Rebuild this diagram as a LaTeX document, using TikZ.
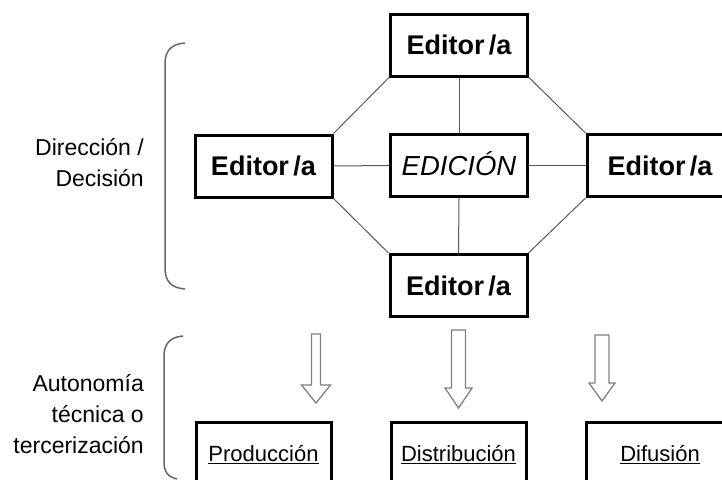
\documentclass[tikz,border=0pt]{standalone}
\usepackage{fontspec}
\setmainfont{Liberation Sans}
\begin{document}
\begin{tikzpicture}[x=1pt,y=-1pt,
  ebox/.style={draw=black, line width=3pt, fill=white, inner sep=0pt,
    minimum width=#1, minimum height=62pt},
  ebox/.default=137pt,
  edfont/.style={font=\bfseries\fontsize{27}{32}\selectfont},
  centfont/.style={font=\itshape\fontsize{27.5}{32}\selectfont, inner sep=0pt},
  bbox/.style={draw=black, line width=3pt, fill=white, inner sep=0pt,
    minimum width=#1, minimum height=80pt},
  conn/.style={draw=black!65, line width=1pt},
  harrow/.style={draw=black!50, line width=1.3pt, line join=miter, fill=white},
  brace/.style={draw=black!60, line width=1.5pt},
  lbl/.style={font=\fontsize{23}{31}\selectfont, align=right, inner sep=0pt},
  btext/.style={font=\fontsize{22}{26}\selectfont, inner sep=0pt}
]
\useasboundingbox (0,0) rectangle (722,479);
\clip (0,0) rectangle (722,479);
\fill[white] (0,0) rectangle (722,479);

% upper boxes
\node[ebox, edfont] (top) at (459,45) {Editor\,/a};
\node[ebox, edfont] (left) at (263.5,166) {Editor\,/a};
\node[ebox] (mid) at (459,165.5) {};
\node[centfont] (midt) at ([yshift=2pt]mid.center) {EDICIÓN};
\node[ebox=146pt, edfont] (right) at (660,165.5) {Editor\,/a};
\node[ebox, edfont] (bot) at (458.5,285.5) {Editor\,/a};

% connectors
\draw[conn] (top.south) -- (mid.north);
\draw[conn] (mid.south) -- (bot.north);
\draw[conn] (left.east) -- (mid.west);
\draw[conn] (mid.east) -- (right.west);
\draw[conn] (top.south west) -- (left.north east);
\draw[conn] (top.south east) -- (right.north west);
\draw[conn] (left.south east) -- (bot.north west);
\draw[conn] (right.south west) -- (bot.north east);

% lower boxes
\node[bbox=135pt] (prod) at (263.5,462) {};
\node[bbox=135pt] (dist) at (458.5,462) {};
\node[bbox=148pt] (difu) at (660,462) {};
\node[btext] (prodt) at (263.5,455) {\underline{Producción}};
\node[btext] (distt) at (458.5,455) {\underline{Distribución}};
\node[btext] (difut) at (660,455) {\underline{Difusión}};

% hollow arrows
\draw[harrow] (311.5,334) -- (320.5,334) -- (320.5,385) -- (330.5,385) -- (316,403)
  -- (301.5,385) -- (311.5,385) -- cycle;
\draw[harrow] (451.5,330) -- (465.5,330) -- (465.5,388) -- (472,388) -- (458.5,408)
  -- (445,388) -- (451.5,388) -- cycle;
\draw[harrow] (595,335) -- (609,335) -- (609,383) -- (615,383) -- (602,401)
  -- (589,383) -- (595,383) -- cycle;

% braces
\draw[brace] (185,43) .. controls (171,44) and (165,51) .. (165,64)
  -- (165,268) .. controls (165,281) and (171,288) .. (185,289);
\draw[brace] (183,336) .. controls (170,337) and (164,344) .. (164,356)
  -- (164,462) .. controls (164,472) and (168,477) .. (177,479);

% side labels
\node[lbl, anchor=east] (dir) at (144,163) {Dirección /\\Decisión};
\node[lbl, anchor=east] (aut) at (144,414) {Autonomía\\técnica o\\tercerización};
\end{tikzpicture}
\end{document}
